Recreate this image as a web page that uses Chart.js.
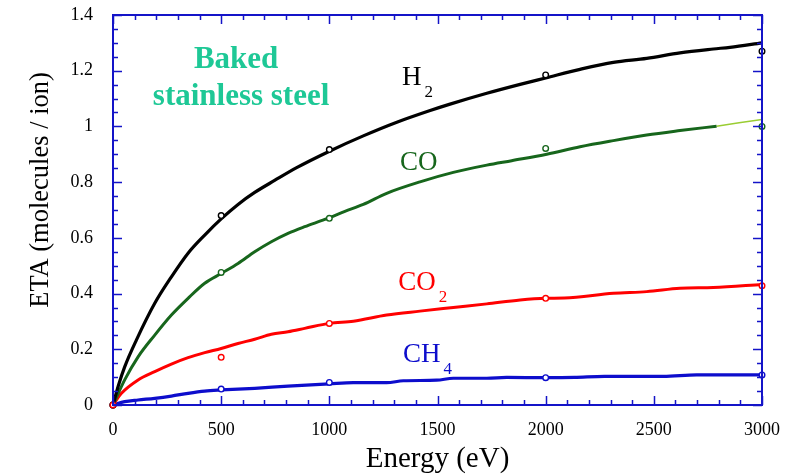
<!DOCTYPE html>
<html>
<head>
<meta charset="utf-8">
<script src="https://cdn.jsdelivr.net/npm/chart.js@4.4.1/dist/chart.umd.min.js"></script>
<style>
    html, body { margin: 0; padding: 0; background: #ffffff; }
    #wrap { width: 792px; height: 476px; }
</style>
</head>
<body>
<div id="wrap"><canvas id="etaChart" width="792" height="476"></canvas></div>
<script>
// Energy (eV) samples
const energyH2 = [0, 25, 54, 108, 193, 270, 347, 424, 500, 578, 655, 747, 849, 1003, 1157, 1312, 1466, 1558, 1728, 1882, 2000, 2159, 2313, 2467, 2621, 2775, 2852, 3000];
const etaH2 = [0, 0.07, 0.137, 0.233, 0.365, 0.46, 0.545, 0.61, 0.668, 0.72, 0.763, 0.806, 0.852, 0.912, 0.966, 1.015, 1.057, 1.08, 1.119, 1.151, 1.174, 1.205, 1.23, 1.244, 1.264, 1.278, 1.284, 1.3];

const energyCO = [0, 54, 116, 193, 270, 347, 424, 500, 578, 655, 732, 809, 886, 979, 1072, 1157, 1265, 1419, 1573, 1728, 1843, 2005, 2159, 2313, 2467, 2621, 2790];
const etaCO = [0, 0.09, 0.173, 0.251, 0.323, 0.383, 0.437, 0.472, 0.508, 0.55, 0.586, 0.616, 0.64, 0.666, 0.695, 0.72, 0.76, 0.801, 0.835, 0.861, 0.877, 0.9, 0.927, 0.949, 0.969, 0.985, 1.001];
const energyCOTail = [2790, 3000];
const etaCOTail = [1.001, 1.025];

const energyCO2 = [0, 39, 116, 193, 270, 347, 424, 500, 578, 655, 732, 809, 886, 1000, 1111, 1265, 1419, 1573, 1728, 1882, 2000, 2087, 2313, 2467, 2621, 2775, 3000];
const etaCO2 = [0, 0.042, 0.09, 0.12, 0.147, 0.17, 0.188, 0.203, 0.221, 0.236, 0.254, 0.263, 0.275, 0.293, 0.301, 0.323, 0.337, 0.35, 0.363, 0.377, 0.383, 0.384, 0.401, 0.407, 0.419, 0.422, 0.433];

const energyCH4 = [0, 54, 116, 193, 270, 347, 424, 500, 655, 809, 1000, 1111, 1265, 1342, 1496, 1573, 1728, 1820, 2000, 2133, 2272, 2544, 2698, 3000];
const etaCH4 = [0, 0.012, 0.018, 0.024, 0.032, 0.042, 0.05, 0.054, 0.06, 0.068, 0.076, 0.08, 0.08, 0.087, 0.089, 0.096, 0.096, 0.099, 0.098, 0.099, 0.103, 0.103, 0.108, 0.108];

// measured points (open circles)
const pointEnergy = [0, 500, 1000, 2000, 3000];
const pointH2 = [0, 0.68, 0.917, 1.185, 1.27];
const pointCO = [0, 0.476, 0.67, 0.921, 1.0];
const pointCO2 = [0, 0.171, 0.293, 0.383, 0.428];
const pointCH4 = [0, 0.057, 0.081, 0.098, 0.108];

const xTickValues = [0, 500, 1000, 1500, 2000, 2500, 3000];
const yTickValues = [0, 0.2, 0.4, 0.6, 0.8, 1, 1.2, 1.4];
const xMinorStep = 100;
const yMinorStep = 0.05;

const colours = {
    h2: "#000000",
    co: "#17661c",
    coTail: "#9acd32",
    co2: "#ff0000",
    ch4: "#0d0dcc",
    axis: "#1414c8",
    note: "#1ec896"
};

const serif = "'Liberation Serif', 'Times New Roman', serif";

const curveLabels = [
    { text: "H", sub: "2", energy: 1336, eta: 1.149, colour: colours.h2 },
    { text: "CO", sub: "", energy: 1327, eta: 0.844, colour: colours.co },
    { text: "CO", sub: "2", energy: 1318, eta: 0.413, colour: colours.co2 },
    { text: "CH", sub: "4", energy: 1341, eta: 0.155, colour: colours.ch4 }
];

function toPoints(xs, ys) {
    return xs.map((x, i) => ({ x, y: ys[i] }));
}

function curve(label, xs, ys, colour, width = 3) {
    return {
        label,
        data: toPoints(xs, ys),
        showLine: true,
        borderColor: colour,
        borderWidth: width,
        pointRadius: 0,
        cubicInterpolationMode: "monotone",
        fill: false,
        order: 2
    };
}

function markers(label, ys, colour) {
    return {
        label,
        data: toPoints(pointEnergy, ys),
        showLine: false,
        borderColor: colour,
        backgroundColor: "#ffffff",
        pointBorderColor: colour,
        pointBackgroundColor: "#ffffff",
        pointRadius: 2.8,
        pointBorderWidth: 1.4,
        order: 1
    };
}

function dropScalePadding(scale) {
    scale.paddingTop = 0;
    scale.paddingBottom = 0;
    scale.paddingLeft = 0;
    scale.paddingRight = 0;
}

const frameAndText = {
    id: "frameAndText",
    afterDatasetsDraw(chart) {
        const { ctx, chartArea: area, scales } = chart;
        const xs = scales.x;
        const ys = scales.y;

        ctx.save();
        ctx.strokeStyle = colours.axis;
        ctx.lineWidth = 1.5;
        ctx.beginPath();
        for (let e = 0; e <= 3000 + 1e-6; e += xMinorStep) {
            const px = Math.round(xs.getPixelForValue(e)) + 0.5;
            const len = e % 500 === 0 ? 9 : 5;
            ctx.moveTo(px, area.bottom);
            ctx.lineTo(px, area.bottom - len);
            ctx.moveTo(px, area.top);
            ctx.lineTo(px, area.top + len);
        }
        for (let i = 0; i * yMinorStep <= 1.4 + 1e-6; i++) {
            const py = Math.round(ys.getPixelForValue(i * yMinorStep)) + 0.5;
            const len = i % 4 === 0 ? 9 : 5;
            ctx.moveTo(area.left, py);
            ctx.lineTo(area.left + len, py);
            ctx.moveTo(area.right, py);
            ctx.lineTo(area.right - len, py);
        }
        ctx.stroke();

        ctx.lineWidth = 2;
        ctx.strokeRect(area.left, area.top, area.right - area.left, area.bottom - area.top);

        // curve names
        ctx.textBaseline = "alphabetic";
        ctx.textAlign = "left";
        curveLabels.forEach((item) => {
            const px = xs.getPixelForValue(item.energy);
            const py = ys.getPixelForValue(item.eta);
            ctx.fillStyle = item.colour;
            ctx.font = `27px ${serif}`;
            ctx.fillText(item.text, px, py);
            if (item.sub) {
                const w = ctx.measureText(item.text).width;
                ctx.font = `17px ${serif}`;
                ctx.fillText(item.sub, px + w + 3, py + 12);
            }
        });

        // material note
        ctx.fillStyle = colours.note;
        ctx.font = `bold 31px ${serif}`;
        ctx.textAlign = "center";
        ctx.fillText("Baked", xs.getPixelForValue(569), ys.getPixelForValue(1.21));
        ctx.fillText("stainless steel", xs.getPixelForValue(592), ys.getPixelForValue(1.077));

        // axis titles
        ctx.fillStyle = "#000000";
        ctx.font = `29px ${serif}`;
        ctx.textBaseline = "middle";
        ctx.fillText("Energy (eV)", xs.getPixelForValue(1500), 459);
        ctx.font = `26.5px ${serif}`;
        ctx.translate(41, ys.getPixelForValue(0.772));
        ctx.rotate(-Math.PI / 2);
        ctx.fillText("ETA (molecules / ion)", 0, 0);
        ctx.restore();
    }
};

new Chart(document.getElementById("etaChart"), {
    type: "scatter",
    data: {
        datasets: [
            markers("CO2 data", pointCO2, colours.co2),
            markers("H2 data", pointH2, colours.h2),
            markers("CO data", pointCO, colours.co),
            markers("CH4 data", pointCH4, colours.ch4),
            curve("H2", energyH2, etaH2, colours.h2, 3.2),
            curve("CO", energyCO, etaCO, colours.co, 3),
            curve("CO tail", energyCOTail, etaCOTail, colours.coTail, 1.5),
            curve("CO2", energyCO2, etaCO2, colours.co2, 3),
            curve("CH4", energyCH4, etaCH4, colours.ch4, 3.2)
        ]
    },
    options: {
        responsive: false,
        animation: false,
        clip: false,
        layout: { autoPadding: false, padding: { top: 15, right: 30, left: 0, bottom: 0 } },
        plugins: {
            legend: { display: false },
            tooltip: { enabled: false }
        },
        scales: {
            x: {
                type: "linear",
                min: 0,
                max: 3000,
                afterFit: (scale) => { scale.height = 71; dropScalePadding(scale); },
                afterBuildTicks: (scale) => { scale.ticks = xTickValues.map((value) => ({ value })); },
                grid: { display: false, drawTicks: false },
                border: { display: false },
                ticks: {
                    padding: 14,
                    color: "#000000",
                    font: { family: serif, size: 18 },
                    maxRotation: 0,
                    callback: (value) => String(value)
                }
            },
            y: {
                type: "linear",
                min: 0,
                max: 1.4,
                afterFit: (scale) => { scale.width = 113; dropScalePadding(scale); },
                afterBuildTicks: (scale) => { scale.ticks = yTickValues.map((value) => ({ value })); },
                grid: { display: false, drawTicks: false },
                border: { display: false },
                ticks: {
                    padding: 20,
                    color: "#000000",
                    font: { family: serif, size: 18 },
                    callback: (value) => String(Math.round(value * 10) / 10)
                }
            }
        }
    },
    plugins: [frameAndText]
});
</script>
</body>
</html>
